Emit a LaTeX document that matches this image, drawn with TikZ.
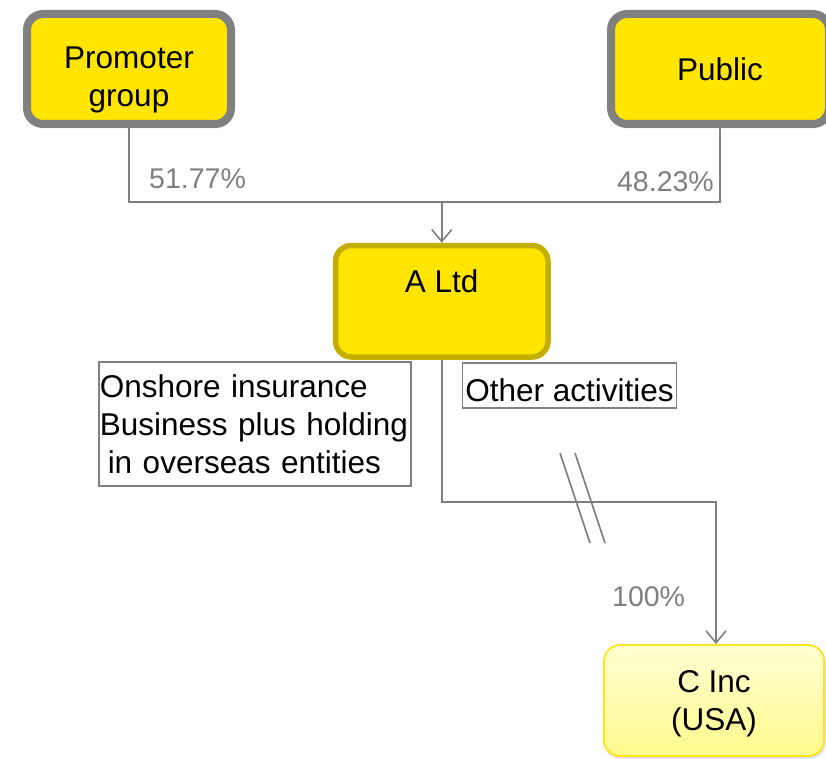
\documentclass[tikz,border=0pt]{standalone}
\usepackage{fontspec}
\setmainfont{Liberation Sans}
\usetikzlibrary{arrows.meta,shadows.blur}

\definecolor{boxyellow}{HTML}{FFE500}
\definecolor{framegray}{HTML}{808080}
\definecolor{olive}{HTML}{C4AE00}
\definecolor{linegray}{HTML}{7F7F7F}
\definecolor{palehigh}{HTML}{FFFFD2}
\definecolor{palelow}{HTML}{FFF98C}
\definecolor{paleedge}{HTML}{FFE41A}

\tikzset{
  x=1pt, y=-1pt,
  bigtext/.style={font=\fontsize{31.5}{38}\selectfont},
  pcttext/.style={font=\fontsize{28.5}{34}\selectfont, text=linegray, inner sep=0pt},
  holder/.style={bigtext, draw=framegray, line width=8pt, fill=boxyellow,
    rounded corners=16pt, align=center,
    blur shadow={shadow xshift=2pt, shadow yshift=-3pt, shadow blur steps=6, shadow opacity=25}},
  company/.style={bigtext, draw=olive, line width=5.5pt, fill=boxyellow,
    rounded corners=16pt, align=center},
  subsid/.style={bigtext, draw=paleedge, line width=1.8pt, top color=palehigh,
    bottom color=palelow, rounded corners=16pt, align=center,
    blur shadow={shadow xshift=1pt, shadow yshift=-2pt, shadow blur steps=5, shadow opacity=20}},
  note/.style={bigtext, draw=framegray, line width=1.5pt},
  link/.style={draw=linegray, line width=1.6pt},
  tip/.style={-{Straight Barb[length=12pt,width=20pt,line width=1.6pt]}}
}

\begin{document}
\begin{tikzpicture}
\useasboundingbox (0,0) rectangle (826,759);

% shareholders (two-line label lowered to sit around the box centre)
\node[holder, minimum width=204pt, minimum height=110pt, text height=75pt, text depth=0pt]
  (prom) at (129,69) {Promoter\\group};
\node[holder, minimum width=218pt, minimum height=110pt] (pub) at (720,69) {Public};

% parent company, name set near the top of the box
\node[company, minimum width=212.5pt, minimum height=111.5pt,
      text height=22.6pt, text depth=40.6pt] (altd) at (441.75,301.25) {A Ltd};

% subsidiary
\node[subsid, minimum width=220pt, minimum height=111pt, text height=59pt, text depth=0pt]
  (cinc) at (714,700.5) {C Inc\\(USA)};

% activity notes
\node[note, anchor=north west, minimum width=312pt, minimum height=124pt,
      text width=310pt, align=left, inner xsep=1pt] (onshore) at (98,361)
  {Onshore insurance\\Business plus holding\\\hspace*{8pt}in overseas entities};
\node[note, minimum width=214pt, minimum height=45pt, inner xsep=2pt,
      text height=32pt, text depth=0pt] (other) at (569.5,385.5)
  {Other activities};

% junctions
\coordinate (j1) at (441.75,202);
\coordinate (j2) at (716,502);

% shareholding connectors
\draw[link, tip] (prom.south) |- (j1) -- (altd.north);
\draw[link] (pub.south) |- (j1);
\draw[link, tip] (altd.south) |- (j2) -- (j2 |- cinc.north);

% break marks on the subsidiary link
\draw[link] (560,453) -- (590,543);
\draw[link] (575,453) -- (605,543);

% percentages
\node[pcttext, anchor=base west] (p1) at (149,189) {51.77\%};
\node[pcttext, anchor=base east] (p2) at (714,191.5) {48.23\%};
\node[pcttext, anchor=base west] (p3) at (612,606) {100\%};
\end{tikzpicture}
\end{document}
